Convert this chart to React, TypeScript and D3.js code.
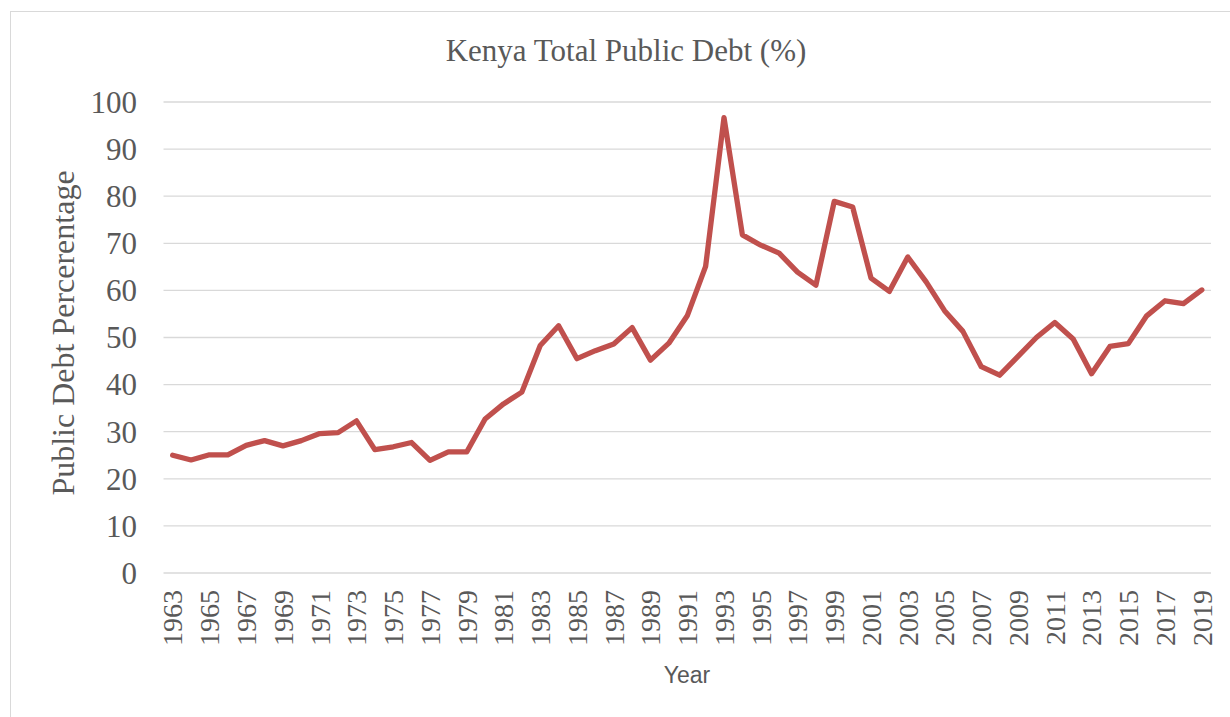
import React from "react";
import * as d3 from "d3";

const years: number[] = [
  1963, 1964, 1965, 1966, 1967, 1968, 1969, 1970, 1971, 1972,
  1973, 1974, 1975, 1976, 1977, 1978, 1979, 1980, 1981, 1982,
  1983, 1984, 1985, 1986, 1987, 1988, 1989, 1990, 1991, 1992,
  1993, 1994, 1995, 1996, 1997, 1998, 1999, 2000, 2001, 2002,
  2003, 2004, 2005, 2006, 2007, 2008, 2009, 2010, 2011, 2012,
  2013, 2014, 2015, 2016, 2017, 2018, 2019,
];

const debt: number[] = [
  25.0, 24.0, 25.1, 25.1, 27.1, 28.1, 27.0, 28.1, 29.6, 29.8,
  32.3, 26.2, 26.8, 27.7, 23.9, 25.7, 25.7, 32.7, 35.9, 38.4,
  48.3, 52.5, 45.5, 47.2, 48.6, 52.1, 45.2, 48.8, 54.6, 65.1,
  96.7, 71.8, 69.6, 67.9, 63.9, 61.1, 78.9, 77.7, 62.6, 59.8,
  67.1, 61.8, 55.7, 51.3, 43.8, 42.0, 46.0, 50.0, 53.2, 49.7,
  42.3, 48.1, 48.7, 54.6, 57.8, 57.2, 60.1,
];

const yTicks: number[] = [0, 10, 20, 30, 40, 50, 60, 70, 80, 90, 100];
const xTickYears: number[] = years.filter((_, i) => i % 2 === 0);

const titleText = "Kenya Total Public Debt (%)";
const yTitle = "Public Debt Percerentage";
const xTitle = "Year";

export default function App() {
  const W = 1230;
  const H = 717;
  const left = 163.5;
  const right = 1211;
  const top = 102;
  const bottom = 573;

  const x = d3
    .scaleBand<number>()
    .domain(years)
    .range([left, right])
    .paddingInner(0)
    .paddingOuter(0);
  const cx = (yr: number) => (x(yr) as number) + x.bandwidth() / 2;
  const y = d3.scaleLinear().domain([0, 100]).range([bottom, top]);

  const line = d3
    .line<number>()
    .x((_, i) => cx(years[i]))
    .y((d) => y(d));

  const serif = "'Liberation Serif', 'Times New Roman', serif";
  const textColor = "#595959";

  return (
    <svg
      width={W}
      height={H}
      style={{ position: "absolute", left: 0, top: 0, background: "#fff" }}
    >
      <rect x={10.5} y={11.5} width={W} height={H} fill="#fff" stroke="#d9d9d9" strokeWidth={1} />
      <text
        x={626}
        y={61}
        textAnchor="middle"
        fontFamily={serif}
        fontSize={31}
        fill={textColor}
      >
        {titleText}
      </text>
      {yTicks.map((t) => (
        <g key={t}>
          <line x1={left} x2={right} y1={y(t)} y2={y(t)} stroke="#d9d9d9" strokeWidth={1.3} />
          <text
            x={137}
            y={y(t)}
            dy="0.35em"
            textAnchor="end"
            fontFamily={serif}
            fontSize={31}
            fill={textColor}
          >
            {t}
          </text>
        </g>
      ))}
      {xTickYears.map((yr) => (
        <text
          key={yr}
          transform={`translate(${cx(yr) + 9.8},590) rotate(-90)`}
          textAnchor="end"
          fontFamily={serif}
          fontSize={28}
          fill={textColor}
        >
          {yr}
        </text>
      ))}
      <text
        transform={`translate(74,333) rotate(-90)`}
        textAnchor="middle"
        fontFamily={serif}
        fontSize={32}
        fill={textColor}
      >
        {yTitle}
      </text>
      <text
        x={687}
        y={683}
        textAnchor="middle"
        fontFamily="'Liberation Sans', Arial, sans-serif"
        fontSize={23}
        fill={textColor}
      >
        {xTitle}
      </text>
      <path
        d={line(debt) || ""}
        fill="none"
        stroke="#C0504D"
        strokeWidth={5.3}
        strokeLinejoin="round"
        strokeLinecap="round"
      />
    </svg>
  );
}
